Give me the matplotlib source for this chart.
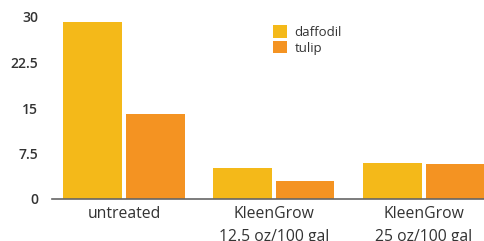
import numpy as np
import matplotlib.pyplot as plt

# data
groups = ['untreated', 'KleenGrow\n12.5 oz/100 gal', 'KleenGrow\n25 oz/100 gal']
daffodil = [29.2, 5.1, 5.9]
tulip = [14.0, 3.0, 5.8]
yticks = [0, 7.5, 15, 22.5, 30]
ytick_labels = ['0', '7.5', '15', '22.5', '30']

plt.rcParams['font.family'] = ['Open Sans', 'DejaVu Sans']

fig = plt.figure(figsize=(4.85, 2.41), dpi=100)
ax = fig.add_axes([52/485, 42/241, 433/485, 182/241])

x = np.arange(len(groups))
w = 0.393
ax.bar(x - 0.207, daffodil, w, color='#F4B919', label='daffodil')
ax.bar(x + 0.207, tulip, w, color='#F49322', label='tulip')

ax.set_xlim(-0.48, 2.407)
ax.set_ylim(0, 30)
ax.set_yticks(yticks)
ax.set_yticklabels(ytick_labels, fontsize=10, fontweight='semibold', color='#333333')
ax.set_xticks(x)
ax.set_xticklabels(groups, fontsize=11.3, color='#333333', linespacing=1.55, va='top')
ax.tick_params(axis='both', length=0)
ax.tick_params(axis='y', pad=10)
ax.tick_params(axis='x', pad=5)

for s in ['top', 'right', 'left']:
    ax.spines[s].set_visible(False)
ax.spines['bottom'].set_color('#666666')
ax.spines['bottom'].set_linewidth(1.2)

leg = ax.legend(loc='upper left', bbox_to_anchor=(0.495, 0.99), frameon=False,
                fontsize=9.5, handlelength=1.05, handleheight=1.05,
                handletextpad=0.6, labelspacing=0.15, borderpad=0)
for t in leg.get_texts():
    t.set_color('#333333')

fig.savefig('out.png', dpi=100)
